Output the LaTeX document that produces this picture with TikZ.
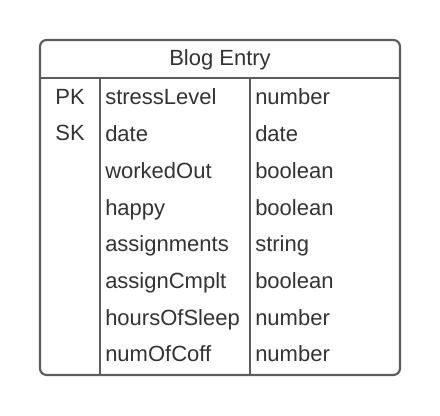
\documentclass[tikz,border=0pt]{standalone}
\usepackage{fontspec}
\setmainfont{Liberation Sans}
\definecolor{linec}{HTML}{5C5C5C}
\definecolor{textc}{HTML}{333333}
\begin{document}
\begin{tikzpicture}[x=0.75pt,y=-0.75pt,
  frame/.style={draw=linec,line width=1.6pt},
  lbl/.style={text=textc,font=\fontsize{16.5}{18}\selectfont,inner sep=0pt,anchor=base west},
  key/.style={text=textc,font=\fontsize{16.5}{18}\selectfont,inner sep=0pt,anchor=base}]
\useasboundingbox (0,0) rectangle (440,416);
\draw[frame,rounded corners=5] (40,40) rectangle (400,375);
\coordinate (hl) at (40,78);
\coordinate (hr) at (400,78);
\coordinate (c1t) at (100,78);
\coordinate (c1b) at (100,375);
\coordinate (c2t) at (250,78);
\coordinate (c2b) at (250,375);
\draw[frame] (hl) -- (hr);
\draw[frame] (c1t) -- (c1b);
\draw[frame] (c2t) -- (c2b);
\node[key] (title) at (220,66) {Blog Entry};
\node[key] (pk) at (70,105) {PK};
\node[key] (sk) at (70,141) {SK};
\foreach \n/\t/\ty [count=\i from 0] in {a/stressLevel/number,b/date/date,c/workedOut/boolean,d/happy/boolean,e/assignments/string,f/assignCmplt/boolean,g/hoursOfSleep/number,h/numOfCoff/number}{
  \node[lbl] (n\n) at (105,{105+36.7*\i}) {\t};
  \node[lbl] (t\n) at (255,{105+36.7*\i}) {\ty};
}
\end{tikzpicture}
\end{document}
